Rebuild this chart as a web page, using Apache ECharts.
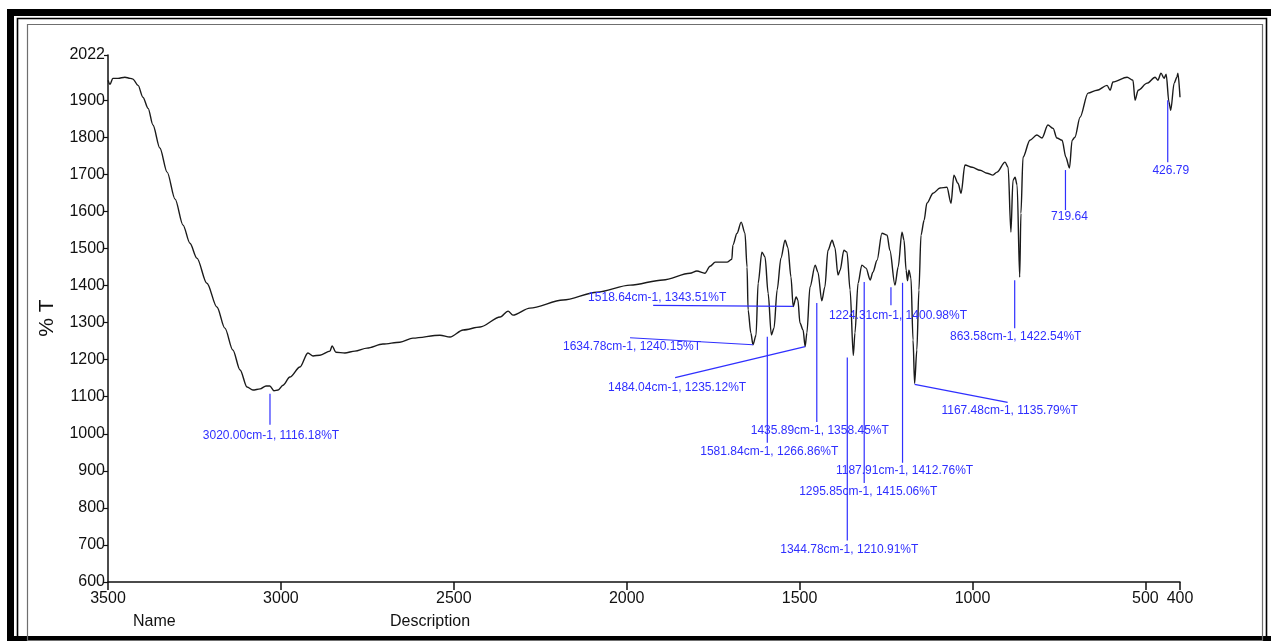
<!DOCTYPE html>
<html>
<head>
<meta charset="utf-8">
<title>IR spectrum</title>
<script src="https://cdn.jsdelivr.net/npm/echarts@6/dist/echarts.min.js"></script>
<style>
  html, body { margin: 0; padding: 0; background: #ffffff; }
  #chart { width: 1271px; height: 641px; }
</style>
</head>
<body>
<div id="chart"></div>
<script>
// Spectrum trace: wavenumber (cm-1) and transmittance (%T)
const wavenumber = [
  3500, 3494, 3486, 3471, 3451, 3436, 3428, 3413, 3399, 3384, 3370, 3350, 3329, 3306, 3283, 3263,
  3243, 3214, 3185, 3162, 3139, 3118, 3098, 3081, 3060, 3043, 3032, 3020, 3008, 2994, 2974, 2945,
  2922, 2907, 2887, 2858, 2852, 2841, 2815, 2786, 2751, 2705, 2656, 2618, 2540, 2511, 2473, 2424,
  2366, 2343, 2329, 2280, 2184, 2086, 1990, 1895, 1817, 1797, 1774, 1759, 1744, 1710, 1696, 1693,
  1681, 1669, 1658, 1652, 1649, 1641, 1634.78, 1626, 1620, 1609, 1600, 1591, 1581.84, 1574, 1565, 1554,
  1542, 1534, 1525, 1518.64, 1510, 1505, 1499, 1490, 1484.04, 1479, 1470, 1455, 1447, 1435.89, 1427, 1418,
  1406, 1398, 1389, 1383, 1372, 1363, 1354, 1344.78, 1340, 1331, 1320, 1308, 1295.85, 1288, 1276, 1262,
  1247, 1239, 1224.31, 1215, 1204, 1198, 1192, 1187.91, 1184, 1178, 1172, 1167.48, 1161, 1155, 1149, 1140,
  1132, 1114, 1094, 1074, 1062, 1054, 1042, 1033, 1022, 1001, 978, 958, 941, 929, 906, 897,
  889, 883, 877, 871, 863.58, 860, 854, 834, 814, 799, 782, 767, 756, 741, 730, 719.64,
  712, 704, 689, 666, 640, 611, 602, 594, 553, 536, 530, 521, 495, 472, 464, 455,
  446, 440, 432, 426.79, 417, 409, 406, 400
];
const transmittance = [
  1954, 1943, 1959, 1959, 1962, 1959, 1957, 1940, 1908, 1878, 1833, 1771, 1706, 1633, 1563, 1514,
  1474, 1406, 1342, 1285, 1226, 1172, 1126, 1118, 1121, 1129, 1129, 1116.18, 1118, 1131, 1153, 1180,
  1218, 1210, 1212, 1223, 1237, 1220, 1218, 1223, 1231, 1242, 1247, 1258, 1266, 1261, 1280, 1288,
  1315, 1331, 1320, 1339, 1361, 1382, 1401, 1415, 1433, 1439, 1433, 1452, 1463, 1463, 1471, 1509,
  1541, 1571, 1541, 1450, 1334, 1272, 1240.15, 1266, 1406, 1490, 1477, 1379, 1266.86, 1285, 1388, 1474,
  1522, 1503, 1423, 1343.51, 1369, 1361, 1299, 1280, 1235.12, 1272, 1396, 1455, 1436, 1358.45, 1396, 1495,
  1522, 1503, 1428, 1441, 1495, 1490, 1388, 1210.91, 1272, 1406, 1455, 1447, 1415.06, 1436, 1468, 1541,
  1536, 1495, 1400.98, 1450, 1544, 1522, 1441, 1412.76, 1441, 1420, 1253, 1135.79, 1226, 1388, 1536, 1576,
  1622, 1649, 1663, 1665, 1622, 1698, 1676, 1649, 1725, 1719, 1711, 1703, 1698, 1706, 1733, 1719,
  1544, 1684, 1692, 1671, 1422.54, 1595, 1746, 1792, 1806, 1798, 1833, 1824, 1798, 1792, 1746, 1717,
  1792, 1800, 1854, 1919, 1927, 1940, 1927, 1949, 1962, 1954, 1900, 1927, 1946, 1962, 1954, 1973,
  1959, 1970, 1895, 1873, 1946, 1962, 1973, 1908
];

// Labelled peaks
const peakWavenumber = [3020.00, 1634.78, 1581.84, 1518.64, 1484.04, 1435.89, 1344.78,
  1295.85, 1224.31, 1187.91, 1167.48, 863.58, 719.64, 426.79];
const peakTransmittance = [1116.18, 1240.15, 1266.86, 1343.51, 1235.12, 1358.45, 1210.91,
  1415.06, 1400.98, 1412.76, 1135.79, 1422.54, 1717, 1873];
const peakLabels = [
  '3020.00cm-1, 1116.18%T', '1634.78cm-1, 1240.15%T', '1581.84cm-1, 1266.86%T',
  '1518.64cm-1, 1343.51%T', '1484.04cm-1, 1235.12%T', '1435.89cm-1, 1358.45%T',
  '1344.78cm-1, 1210.91%T', '1295.85cm-1, 1415.06%T', '1224.31cm-1, 1400.98%T',
  '1187.91cm-1, 1412.76%T', '1167.48cm-1, 1135.79%T', '863.58cm-1, 1422.54%T',
  '719.64', '426.79'
];

// Axis tick values
const xTicks = [3500, 3000, 2500, 2000, 1500, 1000, 500, 400];
const yTicks = [600, 700, 800, 900, 1000, 1100, 1200, 1300, 1400, 1500, 1600, 1700, 1800, 1900, 2022];

// Leader line and label placement, pixel offsets from each peak point
// s = leader start, e = leader end, t = label centre
const peakLabelLayout = [
  { s: [-4, 3],  e: [-4, 34],   t: [-3, 45] },
  { s: [0, 0],   e: [-123, -7], t: [-121, 2] },
  { s: [-4, 2],  e: [-4, 108],  t: [-2, 117] },
  { s: [0, 0],   e: [-140, -1], t: [-136, -9] },
  { s: [0, 0],   e: [-130, 31], t: [-128, 41] },
  { s: [-5, 2],  e: [-5, 121],  t: [-2, 130] },
  { s: [-6, 2],  e: [-6, 185],  t: [-4, 194] },
  { s: [-6, 2],  e: [-6, 203],  t: [-2, 212] },
  { s: [-4, 2],  e: [-4, 20],   t: [3, 31] },
  { s: [-5, 2],  e: [-5, 182],  t: [-3, 190] },
  { s: [0, 1],   e: [93, 19],   t: [95, 27] },
  { s: [-5, 3],  e: [-5, 51],   t: [-4, 60] },
  { s: [-4, 2],  e: [-4, 42],   t: [0, 49] },
  { s: [-3, -10], e: [-3, 52],  t: [0, 60] }
];

const spectrum = wavenumber.map((w, i) => [w, transmittance[i]]);
const peaks = peakWavenumber.map((w, i) => [w, peakTransmittance[i], i]);

const FONT = '"Liberation Sans", Arial, sans-serif';
const PEAK_BLUE = '#2f2fff';
const plainNumber = (v) => String(v);

const chart = echarts.init(document.getElementById('chart'), null, { renderer: 'canvas' });

chart.setOption({
  backgroundColor: '#ffffff',
  animation: false,
  grid: { left: 108, right: 91, top: 55, bottom: 59, containLabel: false },
  xAxis: {
    type: 'value',
    inverse: true,
    min: 400,
    max: 3500,
    axisLine: { show: true, lineStyle: { color: '#111', width: 1.5 } },
    axisTick: { show: true, inside: false, length: 8, customValues: xTicks, lineStyle: { color: '#111', width: 1.5 } },
    axisLabel: { customValues: xTicks, formatter: plainNumber, color: '#111', fontSize: 16, fontFamily: FONT, margin: 9 },
    splitLine: { show: false }
  },
  yAxis: {
    type: 'value',
    min: 600,
    max: 2022,
    axisLine: { show: true, lineStyle: { color: '#111', width: 1.5 } },
    axisTick: { show: true, length: 4, customValues: yTicks, lineStyle: { color: '#111', width: 1.2 } },
    axisLabel: { customValues: yTicks, formatter: plainNumber, color: '#111', fontSize: 16, fontFamily: FONT, margin: 3 },
    splitLine: { show: false }
  },
  series: [
    {
      type: 'line',
      data: spectrum,
      showSymbol: false,
      smooth: 0.3,
      smoothMonotone: 'x',
      lineStyle: { color: '#1a1a1a', width: 1.4 },
      z: 3
    },
    {
      type: 'custom',
      data: peaks,
      z: 4,
      clip: false,
      renderItem: function (params, api) {
        const p = api.coord([api.value(0), api.value(1)]);
        const idx = api.value(2);
        const lay = peakLabelLayout[idx];
        return {
          type: 'group',
          children: [
            {
              type: 'line',
              shape: {
                x1: p[0] + lay.s[0], y1: p[1] + lay.s[1],
                x2: p[0] + lay.e[0], y2: p[1] + lay.e[1]
              },
              style: { stroke: PEAK_BLUE, lineWidth: 1.2 }
            },
            {
              type: 'text',
              x: p[0] + lay.t[0],
              y: p[1] + lay.t[1],
              style: {
                text: peakLabels[idx],
                fill: PEAK_BLUE,
                font: '12px ' + FONT,
                align: 'center',
                verticalAlign: 'middle'
              }
            }
          ]
        };
      }
    }
  ],
  graphic: [
    // heavy outer border
    { type: 'rect', shape: { x: 7, y: 9, width: 1264, height: 7 }, style: { fill: '#000' }, z: 10 },
    { type: 'rect', shape: { x: 7, y: 9, width: 7, height: 632 }, style: { fill: '#000' }, z: 10 },
    { type: 'rect', shape: { x: 7, y: 636, width: 1264, height: 5 }, style: { fill: '#000' }, z: 10 },
    // thin inner border
    { type: 'rect', shape: { x: 17.5, y: 18.5, width: 1249, height: 622 }, style: { fill: null, stroke: '#000', lineWidth: 1.6 }, z: 10 },
    // plot panel border
    { type: 'rect', shape: { x: 27.5, y: 24.5, width: 1235, height: 616 }, style: { fill: null, stroke: '#6f6f6f', lineWidth: 1.2 }, z: 10 },
    // axis title and footer captions
    {
      type: 'text', x: 47, y: 318, rotation: Math.PI / 2,
      style: { text: '% T', font: '21px ' + FONT, fill: '#111', align: 'center', verticalAlign: 'middle' }, z: 10
    },
    { type: 'text', x: 133, y: 622, style: { text: 'Name', font: '16px ' + FONT, fill: '#111', align: 'left', verticalAlign: 'middle' }, z: 10 },
    { type: 'text', x: 390, y: 622, style: { text: 'Description', font: '16px ' + FONT, fill: '#111', align: 'left', verticalAlign: 'middle' }, z: 10 }
  ]
});
</script>
</body>
</html>
